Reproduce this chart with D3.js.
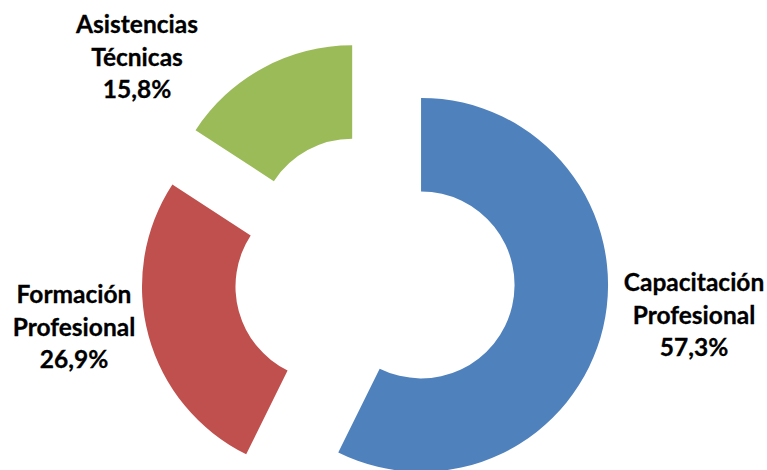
<!DOCTYPE html>
<html>
<head>
<meta charset="utf-8">
<script src="https://cdn.jsdelivr.net/npm/d3@7/dist/d3.min.js"></script>
<style>
html,body{margin:0;padding:0;background:#fff;}
svg{display:block;}
</style>
</head>
<body>
<svg id="chart" width="767" height="470"></svg>
<script>
const categories = ["Capacitación Profesional", "Formación Profesional", "Asistencias Técnicas"];
const labelLines = [["Capacitación", "Profesional"], ["Formación", "Profesional"], ["Asistencias", "Técnicas"]];
const values = [57.3, 26.9, 15.8];
const valueLabels = ["57,3%", "26,9%", "15,8%"];
const colors = ["#4F81BD", "#C0504D", "#9BBB59"];

const W = 767, H = 470;
const cx = 374.8, cy = 274.1;
const outerR = 187, innerR = 93.5, explode = 47.5;
const labelPos = [[694, 291], [74, 303], [137, 33]];

const svg = d3.select("#chart");
const pie = d3.pie().sort(null).value(d => d)(values);
const arc = d3.arc().innerRadius(innerR).outerRadius(outerR);

const g = svg.append("g").attr("transform", `translate(${cx},${cy})`);
g.selectAll("path.slice").data(pie).join("path")
  .attr("class", "slice")
  .attr("fill", (d, i) => colors[i])
  .attr("d", arc)
  .attr("transform", d => {
    const a = (d.startAngle + d.endAngle) / 2;
    return `translate(${explode * Math.sin(a)},${-explode * Math.cos(a)})`;
  });

const lbl = svg.selectAll("text.lbl").data(pie).join("text")
  .attr("class", "lbl")
  .attr("text-anchor", "middle")
  .attr("font-family", "Lato, 'Open Sans', sans-serif")
  .attr("font-weight", "bold")
  .attr("font-size", 24.5)
  .attr("fill", "#000")
  .attr("stroke", "#000")
  .attr("stroke-width", 0.3)
  .attr("x", (d, i) => labelPos[i][0])
  .attr("y", (d, i) => labelPos[i][1]);
lbl.each(function(d, i) {
  const t = d3.select(this);
  const lines = labelLines[i].concat([valueLabels[i]]);
  lines.forEach((s, k) => {
    t.append("tspan").attr("x", labelPos[i][0]).attr("dy", k === 0 ? 0 : 32.5).text(s);
  });
});
</script>
</body>
</html>
